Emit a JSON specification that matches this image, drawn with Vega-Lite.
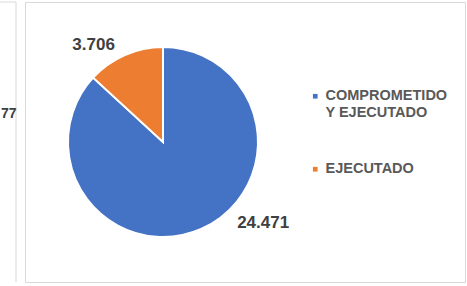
{
  "$schema": "https://vega.github.io/schema/vega-lite/v6.json",
  "padding": {"left": -3, "top": 1, "right": 2, "bottom": 3},
  "background": "white",
  "spacing": 7,
  "config": {
    "view": {"stroke": "#d9d9d9", "strokeWidth": 1},
    "font": "Liberation Sans"
  },
  "datasets": {
    "pie": [
      {"categoria": "COMPROMETIDO Y EJECUTADO", "valor": 24471, "etiqueta": "24.471"},
      {"categoria": "EJECUTADO", "valor": 3706, "etiqueta": "3.706"}
    ],
    "izq": [{"etiqueta": "77"}]
  },
  "hconcat": [
    {
      "width": 18,
      "height": 280,
      "view": {"stroke": null},
      "data": {"name": "izq"},
      "layer": [
        {
          "mark": {"type": "rule", "color": "#d9d9d9", "strokeWidth": 1},
          "encoding": {"x": {"datum": 1, "type": "quantitative", "scale": {"domain": [0, 1]}, "axis": null}}
        },
        {
          "mark": {"type": "rule", "color": "#d9d9d9", "strokeWidth": 1},
          "encoding": {"y": {"datum": 1, "type": "quantitative", "scale": {"domain": [0, 1]}, "axis": null}}
        },
        {
          "mark": {"type": "text", "align": "left", "baseline": "middle", "fontSize": 14, "fontWeight": "bold", "color": "#404040"},
          "encoding": {
            "text": {"field": "etiqueta", "type": "nominal"},
            "x": {"datum": 0.17, "type": "quantitative", "scale": {"domain": [0, 1]}, "axis": null},
            "y": {"datum": 0.6, "type": "quantitative", "scale": {"domain": [0, 1]}, "axis": null}
          }
        }
      ]
    },
    {
      "width": 440,
      "height": 280,
      "data": {"name": "pie"},
      "encoding": {
        "x": {"datum": 0.3136, "type": "quantitative", "scale": {"domain": [0, 1]}, "axis": null},
        "y": {"datum": 0.5, "type": "quantitative", "scale": {"domain": [0, 1]}, "axis": null}
      },
      "layer": [
        {
          "mark": {"type": "arc", "radius": 95, "stroke": "white", "strokeWidth": 2},
          "encoding": {
            "theta": {"field": "valor", "type": "quantitative", "stack": true},
            "color": {
              "field": "categoria",
              "type": "nominal",
              "scale": {"domain": ["COMPROMETIDO Y EJECUTADO", "EJECUTADO"], "range": ["#4472C4", "#ED7D31"]},
              "legend": {
                "orient": "none",
                "legendX": 310,
                "legendY": 87,
                "title": null,
                "padding": 0,
                "symbolType": "square",
                "symbolSize": 22,
                "symbolStrokeWidth": 0,
                "labelFont": "Liberation Sans",
                "labelFontSize": 14.5,
                "labelFontWeight": "bold",
                "labelColor": "#595959",
                "labelOffset": 3,
                "labelLimit": 0,
                "rowPadding": 41,
                "labelExpr": "datum.label === 'COMPROMETIDO Y EJECUTADO' ? ['COMPROMETIDO', 'Y EJECUTADO'] : datum.label"
              }
            }
          }
        },
        {
          "mark": {"type": "text", "radius": 118, "dx": -22, "dy": 11, "fontSize": 17, "fontWeight": "bold", "color": "#404040", "align": "center", "baseline": "middle"},
          "encoding": {
            "theta": {"field": "valor", "type": "quantitative", "stack": true},
            "text": {"condition": {"test": "datum.categoria === 'EJECUTADO'", "field": "etiqueta"}, "value": ""}
          }
        },
        {
          "mark": {"type": "text", "radius": 100, "dx": 60, "dy": -11, "fontSize": 17, "fontWeight": "bold", "color": "#404040", "align": "center", "baseline": "middle"},
          "encoding": {
            "theta": {"field": "valor", "type": "quantitative", "stack": true},
            "text": {"condition": {"test": "datum.categoria === 'COMPROMETIDO Y EJECUTADO'", "field": "etiqueta"}, "value": ""}
          }
        }
      ]
    }
  ]
}
